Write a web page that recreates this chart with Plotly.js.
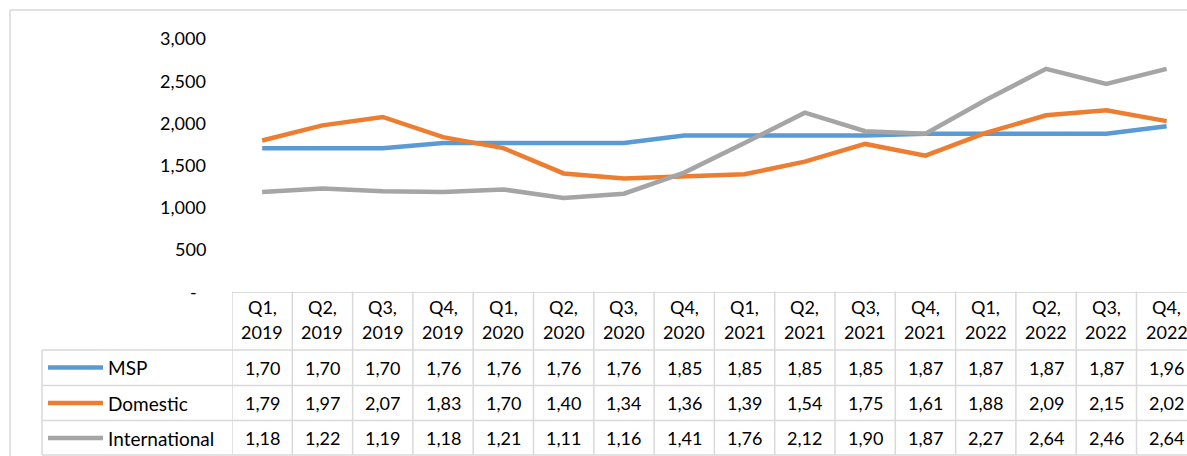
<!DOCTYPE html>
<html><head><meta charset="utf-8">
<script src="https://cdn.plot.ly/plotly-3.0.1.min.js"></script>
<style>html,body{margin:0;padding:0;background:#fff;}#chart{width:1187px;height:456px;}</style>
</head><body><div id="chart"></div>
<script>
const categories = ['Q1, 2019','Q2, 2019','Q3, 2019','Q4, 2019','Q1, 2020','Q2, 2020','Q3, 2020','Q4, 2020',
  'Q1, 2021','Q2, 2021','Q3, 2021','Q4, 2021','Q1, 2022','Q2, 2022','Q3, 2022','Q4, 2022'];
const msp = [1700,1700,1700,1760,1760,1760,1760,1850,1850,1850,1850,1870,1870,1870,1870,1960];
const domestic = [1790,1970,2070,1830,1700,1400,1340,1360,1390,1540,1750,1610,1880,2090,2150,2020];
const international = [1180,1220,1190,1180,1210,1110,1160,1410,1760,2120,1900,1870,2270,2640,2460,2640];
const seriesNames = ['MSP','Domestic','International'];
const seriesColors = ['#5B9BD5','#ED7D31','#A5A5A5'];
const yTickVals = [0,500,1000,1500,2000,2500,3000];
const yTickText = ['-\u00a0\u00a0','500','1,000','1,500','2,000','2,500','3,000'];

const W = 1187, H = 456;
const px = x => x / W;
const py = y => (H - y) / H;
const FONT = 'Lato, "Open Sans", sans-serif';
const GRID = '#D9D9D9';
const FS = 18;
const seriesValues = [msp, domestic, international];

const traces = seriesValues.map((vals, k) => ({
  type: 'scatter', mode: 'lines', x: categories, y: vals, name: seriesNames[k],
  line: {color: seriesColors[k], width: 4.5}, hoverinfo: 'skip'
}));

const annotations = [];
const shapes = [];
// y labels
yTickVals.forEach((v, i) => annotations.push({
  xref: 'paper', yref: 'y', x: px(208), y: v, xanchor: 'right', yanchor: 'middle',
  text: yTickText[i], showarrow: false, font: {family: FONT, size: FS, color: '#000'}
}));
// header
categories.forEach((c, i) => {
  const parts = c.split(' ');
  annotations.push({xref: 'x', yref: 'paper', x: i, y: py(307), xanchor: 'center', yanchor: 'middle',
    text: parts[0], showarrow: false, font: {family: FONT, size: FS, color: '#000'}});
  annotations.push({xref: 'x', yref: 'paper', x: i, y: py(332), xanchor: 'center', yanchor: 'middle',
    text: parts[1], showarrow: false, font: {family: FONT, size: FS, color: '#000'}});
});
// rows
const rowTop = [350, 385.5, 420.5];
const rowH = 35;
seriesValues.forEach((vals, k) => {
  const cy = rowTop[k] + rowH / 2;
  vals.forEach((v, i) => annotations.push({
    xref: 'x', yref: 'paper', x: i, y: py(cy), xanchor: 'center', yanchor: 'middle',
    text: (v / 1000).toFixed(2).replace('.', ','), showarrow: false,
    font: {family: FONT, size: FS, color: '#000'}
  }));
  annotations.push({xref: 'paper', yref: 'paper', x: px(106), y: py(cy), xanchor: 'left', yanchor: 'middle',
    text: seriesNames[k], showarrow: false, font: {family: FONT, size: 19, color: '#000'}});
  shapes.push({type: 'line', xref: 'paper', yref: 'paper', x0: px(48), x1: px(103), y0: py(cy), y1: py(cy),
    line: {color: seriesColors[k], width: 4.5}});
});
// table grid
[350, 385.5, 420.5, 455].forEach(y => shapes.push({type: 'line', xref: 'paper', yref: 'paper',
  x0: px(42), x1: 1, y0: py(y), y1: py(y), line: {color: GRID, width: 1.5}}));
shapes.push({type: 'line', xref: 'paper', yref: 'paper', x0: px(42), x1: px(42), y0: py(350), y1: py(455),
  line: {color: GRID, width: 1.5}});
for (let i = 0; i <= categories.length; i++) {
  shapes.push({type: 'line', xref: 'x', yref: 'paper', x0: i - 0.5, x1: i - 0.5, y0: py(291.5), y1: py(455),
    line: {color: GRID, width: 1.5}});
}
// chart frame
shapes.push({type: 'line', xref: 'paper', yref: 'paper', x0: px(10), x1: 1, y0: py(10), y1: py(10), line: {color: GRID, width: 1.5}});
shapes.push({type: 'line', xref: 'paper', yref: 'paper', x0: px(10), x1: px(10), y0: py(10), y1: 0, line: {color: GRID, width: 1.5}});

const layout = {
  width: W, height: H, margin: {l: 0, r: 0, t: 0, b: 0},
  paper_bgcolor: '#fff', plot_bgcolor: '#fff', showlegend: false, hovermode: false,
  xaxis: {type: 'category', domain: [px(232), 1], range: [-0.5, -0.5 + (W - 232) / 60.3],
    showticklabels: false, showgrid: false, zeroline: false, ticks: '',
    showline: true, linecolor: GRID, linewidth: 1.5},
  yaxis: {domain: [py(291.5), py(10)], range: [0, 3000 * (291.5 - 10) / 253],
    showticklabels: false, showgrid: false, zeroline: false, ticks: '', showline: false},
  annotations: annotations, shapes: shapes
};
Plotly.newPlot('chart', traces, layout, {displayModeBar: false, staticPlot: true});
</script></body></html>
